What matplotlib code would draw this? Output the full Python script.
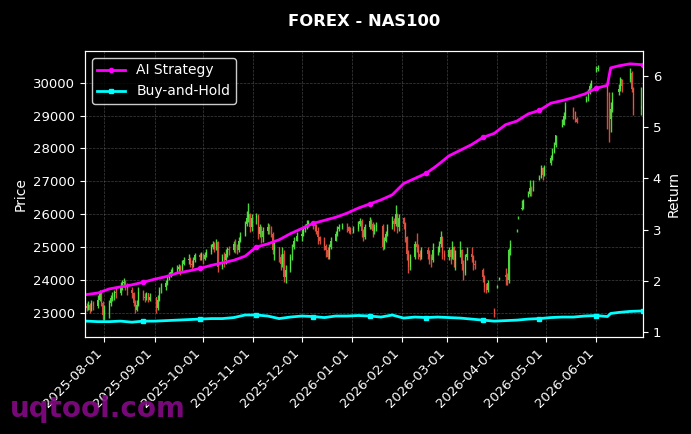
import matplotlib
matplotlib.use("Agg")
import matplotlib.pyplot as plt
import matplotlib.dates as mdates
import pandas as pd

# daily candles, one row per week (Mon..Fri), None = no candle that day
opens = [
    23200, 23150, 23250, 23100, 23300,
    23200, 23400, 23600, 23300, 22950,
    23100, 23300, 23450, 23500, 23650,
    23600, 23800, 23900, 23950, 23850,
    23700, 23600, 23300, 23100, 23250,
    23650, 23500, 23450, 23600, 23400,
    None, 23500, 23150, 23400, 23700,
    23800, 23900, 24050, 24150, 24250,
    24300, 24350, 24400, 24300, 24500,
    24600, 24650, 24500, 24450, 24600,
    24750, 24700, 24800, 24650, 24750,
    24850, 25000, 25100, 24950, 25150,
    24400, 24700, 24600, 24800, 24950,
    24900, 25100, 25000, 24900, 25200,
    25350, 25700, 25900, 26000, 25600,
    25900, 25950, 25400, 25600, 25300,
    25500, 25600, 25550, 25400, 24900,
    25000, 24700, 24500, 24800, 24100,
    24300, 24700, 25000, None, 25200,
    25350, 25400, 25550, 25600, 25700,
    25750, 25700, 25650, 25500, 25300,
    25200, 25050, 24900, 24700, 25000,
    25200, 25400, 25550, None, 25600,
    25650, 25600, 25500, None, 25450,
    25550, 25700, 25800, 25500, 25300,
    25600, 25800, 25700, 25500, 25600,
    None, 25650, 25000, 25200, 25400,
    25600, 25800, 25700, 26000, 25600,
    25900, 25700, 25300, 24800, 24400,
    24700, 25100, 25000, 24800, 24700,
    None, 24900, 24800, 24700, 24600,
    24900, 24900, 25100, 25300, 24800,
    24700, 24900, 24700, 25000, 24600,
    24800, 24900, 24500, 24200, 24700,
    24800, 24700, 24500, None, None,
    24300, 24100, 23800, 23700, None,
    23100, None, 23780, 24020, None,
    24150, 24100, 24000, 24900, None,
    25480, 25880, None, 26150, 26200,
    26550, 26600, 26800, 26700, None,
    27050, 27100, 27400, 27200, None,
    27550, 27700, 27900, 28100, None,
    28650, 28700, 29000, None, None,
    29200, 29100, 28900, None, None,
    None, 29450, 29500, 29700, 29900,
    30350, 30400, None, None, None,
    29900, 29600, 28900, 29200, None,
    29700, 29800, 30100, None, None,
    30100, 30300, 29800, None, None,
    29200,
]
highs = [
    23300, 23350, 23300, 23400, 23350,
    23550, 23700, 23650, 23350, 23250,
    23400, 23550, 23650, 23700, 23750,
    23950, 24000, 24050, 24000, 23900,
    23800, 23650, 23400, 23400, 23790,
    23700, 23600, 23650, 23620, 23600,
    None, 23500, 23540, 23800, 23900,
    24000, 24150, 24250, 24350, 24400,
    24450, 24500, 24450, 24600, 24700,
    24800, 24700, 24600, 24700, 24820,
    24820, 24850, 24820, 24850, 24950,
    25100, 25200, 25150, 25250, 25200,
    24800, 24850, 24950, 25000, 25050,
    25200, 25250, 25100, 25300, 25450,
    25800, 26100, 26340, 26050, 26000,
    26030, 26000, 25700, 25650, 25600,
    25730, 25700, 25650, 25450, 25150,
    25000, 24800, 25000, 24900, 24450,
    24800, 25100, 25300, None, 25450,
    25550, 25650, 25700, 25820, 25820,
    25800, 25750, 25700, 25600, 25350,
    25300, 25100, 25000, 25100, 25300,
    25500, 25650, 25700, None, 25730,
    25720, 25650, 25600, None, 25650,
    25800, 25900, 25850, 25550, 25700,
    25920, 25850, 25750, 25700, 25750,
    None, 25700, 25300, 25500, 25700,
    25950, 25900, 26280, 26050, 26000,
    25920, 25750, 25350, 24900, 24800,
    25200, 25420, 25100, 24900, 25000,
    None, 25000, 24900, 24800, 25120,
    25050, 25200, 25500, 25350, 24900,
    25000, 24950, 25200, 25050, 24900,
    25200, 24950, 24600, 24800, 25000,
    25000, 24750, 24600, None, None,
    24360, 24150, 23900, 24000, None,
    23150, None, 23860, 24100, None,
    24360, 24200, 24970, 25210, None,
    25550, 25950, None, 26430, 26450,
    26700, 27040, 26850, 27040, None,
    27200, 27500, 27450, 27500, None,
    27800, 28000, 28200, 28410, None,
    28900, 29100, 29410, None, None,
    29260, 29150, 28950, None, None,
    None, 29600, 29800, 30000, 30080,
    30500, 30540, None, None, None,
    29930, 29700, 29400, 29700, None,
    29950, 30170, 30100, None, None,
    30440, 30350, 29870, None, None,
    29870,
]
lows = [
    23050, 23100, 23000, 23050, 23100,
    23150, 23350, 23200, 22800, 22780,
    22850, 23200, 23350, 23400, 23450,
    23550, 23700, 23800, 23700, 23550,
    23450, 23200, 23000, 23050, 23200,
    23400, 23330, 23400, 23330, 23350,
    None, 23000, 23100, 23350, 23600,
    23700, 23850, 24000, 24100, 24150,
    24200, 24250, 24150, 24250, 24450,
    24500, 24400, 24350, 24400, 24550,
    24600, 24600, 24500, 24600, 24700,
    24800, 24950, 24850, 24900, 24250,
    24350, 24400, 24500, 24700, 24750,
    24850, 24820, 24800, 24850, 25150,
    25350, 25650, 25750, 25450, 25500,
    25700, 25250, 25300, 25120, 25150,
    25400, 25400, 25300, 24800, 24600,
    24550, 24300, 24400, 23950, 23900,
    24250, 24600, 24950, None, 25200,
    25200, 25350, 25450, 25550, 25600,
    25550, 25500, 25400, 25100, 25100,
    24900, 24700, 24650, 24650, 24950,
    25200, 25350, 25500, None, 25550,
    25450, 25420, 25400, None, 25420,
    25500, 25650, 25300, 25200, 25250,
    25550, 25550, 25300, 25400, 25500,
    None, 24900, 24950, 25150, 25350,
    25550, 25500, 25650, 25420, 25500,
    25550, 25150, 24600, 24210, 24300,
    24650, 24850, 24650, 24600, 24650,
    None, 24650, 24500, 24400, 24550,
    24750, 24850, 25000, 24650, 24600,
    24600, 24500, 24650, 24400, 24300,
    24700, 24300, 24000, 24150, 24600,
    24550, 24300, 24350, None, None,
    23950, 23650, 23600, 23650, None,
    22870, None, 23750, 24000, None,
    23850, 23840, 23900, 24760, None,
    25450, 25850, None, 26120, 26150,
    26520, 26550, 26550, 26700, None,
    27040, 27100, 27050, 27150, None,
    27500, 27650, 27850, 28050, None,
    28650, 28700, 28900, None, None,
    28900, 28800, 28770, None, None,
    None, 29410, 29450, 29650, 29850,
    30320, 30350, None, None, None,
    28600, 28190, 28500, 29100, None,
    29620, 29750, 29700, None, None,
    30020, 29700, 29010, None, None,
    29010,
]
closes = [
    23150, 23250, 23100, 23300, 23200,
    23400, 23600, 23300, 22950, 23100,
    23300, 23450, 23500, 23650, 23600,
    23800, 23900, 23950, 23850, 23700,
    23600, 23300, 23100, 23250, 23650,
    23500, 23450, 23600, 23400, 23500,
    None, 23150, 23400, 23700, 23800,
    23900, 24050, 24150, 24250, 24300,
    24350, 24400, 24300, 24500, 24600,
    24650, 24500, 24450, 24600, 24750,
    24700, 24800, 24650, 24750, 24850,
    25000, 25100, 24950, 25150, 24400,
    24700, 24600, 24800, 24950, 24900,
    25100, 25000, 24900, 25200, 25350,
    25700, 25900, 26000, 25600, 25900,
    25950, 25400, 25600, 25300, 25500,
    25600, 25550, 25400, 24900, 25000,
    24700, 24500, 24800, 24100, 24300,
    24700, 25000, 25200, None, 25350,
    25400, 25550, 25600, 25700, 25750,
    25700, 25650, 25500, 25300, 25200,
    25050, 24900, 24700, 25000, 25200,
    25400, 25550, 25600, None, 25650,
    25600, 25500, 25450, None, 25550,
    25700, 25800, 25500, 25300, 25600,
    25800, 25700, 25500, 25600, 25650,
    None, 25000, 25200, 25400, 25600,
    25800, 25700, 26000, 25600, 25900,
    25700, 25300, 24800, 24400, 24700,
    25100, 25000, 24800, 24700, 24900,
    None, 24800, 24700, 24600, 24900,
    24900, 25100, 25300, 24800, 24700,
    24900, 24700, 25000, 24600, 24800,
    24900, 24500, 24200, 24700, 24800,
    24700, 24500, 24450, None, None,
    24100, 23800, 23700, 23900, None,
    23000, None, 23820, 24060, None,
    24100, 24000, 24900, 25100, None,
    25500, 25900, None, 26200, 26400,
    26600, 26800, 26700, 27000, None,
    27100, 27400, 27200, 27450, None,
    27700, 27900, 28100, 28400, None,
    28700, 29000, 29300, None, None,
    29100, 28900, 28800, None, None,
    None, 29500, 29700, 29900, 30050,
    30400, 30450, None, None, None,
    29600, 28900, 29200, 29500, None,
    29800, 30100, 29900, None, None,
    30300, 29800, 29200, None, None,
    29300,
]

# equity curves, sampled weekly (plus the jump day in June)
ret_dates = list(pd.date_range("2025-07-21", "2026-06-08", freq="W-MON")) + \
    [pd.Timestamp(d) for d in ["2026-06-10", "2026-06-15", "2026-06-22", "2026-06-30"]]
ai_strategy = [
    1.73, 1.76, 1.84, 1.88, 1.92, 1.97, 2.03, 2.08, 2.15, 2.19,
    2.24, 2.30, 2.35, 2.40, 2.48, 2.66, 2.72, 2.80, 2.92, 3.02,
    3.12, 3.18, 3.24, 3.32, 3.42, 3.50, 3.58, 3.68, 3.90, 4.00,
    4.10, 4.26, 4.44, 4.55, 4.66, 4.80, 4.88, 5.05, 5.12, 5.26,
    5.33, 5.47, 5.52, 5.58, 5.65, 5.76, 5.82, 6.16, 6.20, 6.24,
    6.22,
]
buy_hold = [
    1.21, 1.20, 1.20, 1.21, 1.19, 1.21, 1.21, 1.22, 1.23, 1.24,
    1.25, 1.26, 1.26, 1.28, 1.33, 1.33, 1.31, 1.26, 1.29, 1.31,
    1.30, 1.28, 1.31, 1.31, 1.32, 1.31, 1.29, 1.33, 1.27, 1.29,
    1.28, 1.29, 1.28, 1.27, 1.25, 1.23, 1.21, 1.22, 1.23, 1.25,
    1.26, 1.28, 1.29, 1.29, 1.31, 1.32, 1.30, 1.36, 1.38, 1.40,
    1.41,
]

days = pd.bdate_range("2025-07-21", "2026-06-29")

fig = plt.figure(figsize=(6.91, 4.34), dpi=100, facecolor="black")
ax = fig.add_axes([0.123, 0.2235, 0.8075, 0.659])
ax.set_facecolor("black")

for d, o, h, l, c in zip(days, opens, highs, lows, closes):
    if c is None:
        continue
    col = "#55ee44" if c >= o else "#ee5544"
    ax.vlines(d, l, h, color=col, lw=1, alpha=0.9)
    ax.bar(d, abs(c - o), bottom=min(o, c), width=0.6, color=col, alpha=0.9, lw=0)

ax.set_xlim(pd.Timestamp("2025-07-20"), pd.Timestamp("2026-06-30"))
ax.set_ylim(22270, 30960)
ax.set_ylabel("Price", color="white", fontsize=10)
ax.xaxis.set_major_locator(mdates.MonthLocator())
ax.xaxis.set_major_formatter(mdates.DateFormatter("%Y-%m-%d"))
plt.setp(ax.get_xticklabels(), rotation=45, ha="right")
ax.grid(True, color="gray", ls="--", lw=0.5, alpha=0.5)
ax.tick_params(colors="white", labelsize=9.5)
for s in ax.spines.values():
    s.set_color("white")
ax.set_title("FOREX - NAS100", color="white", fontsize=11.8, fontweight="bold", pad=18)

ax2 = ax.twinx()
ax2.plot(ret_dates, ai_strategy, color="#ff00ff", lw=2, marker="o", ms=3,
         markevery=(5, 5), label="AI Strategy")
ax2.plot(ret_dates, buy_hold, color="#00ffff", lw=2, marker="s", ms=3,
         markevery=(5, 5), label="Buy-and-Hold")
ax2.set_ylim(0.90, 6.49)
ax2.set_ylabel("Return", color="white", fontsize=10)
ax2.tick_params(colors="white", labelsize=9.5)
for s in ax2.spines.values():
    s.set_color("white")
leg = ax2.legend(loc="upper left", fontsize=10, facecolor="black",
                 edgecolor="white", labelcolor="white")

fig.text(0.014, 0.04, "uqtool.com", color="#850a85", fontsize=20,
         fontweight="bold", alpha=0.9)

plt.savefig("out.png", facecolor="black")
